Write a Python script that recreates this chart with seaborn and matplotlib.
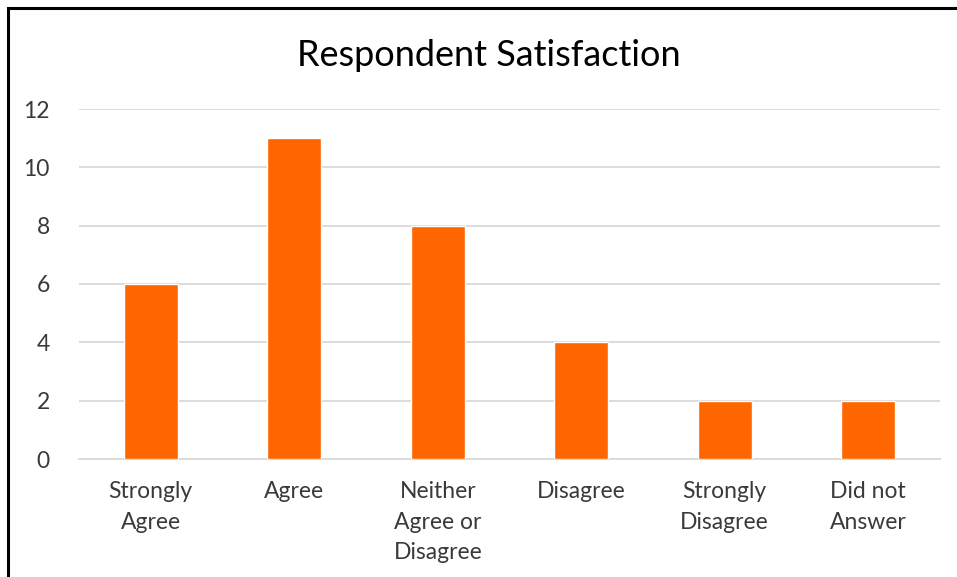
import matplotlib
matplotlib.use("Agg")
import matplotlib.pyplot as plt
import seaborn as sns
import pandas as pd
from matplotlib.patches import Rectangle

categories = ["Strongly\nAgree", "Agree", "Neither\nAgree or\nDisagree", "Disagree",
              "Strongly\nDisagree", "Did not\nAnswer"]
counts = [6, 11, 8, 4, 2, 2]
y_ticks = [0, 2, 4, 6, 8, 10, 12]

df = pd.DataFrame({"response": categories, "count": counts})

sns.set_theme(style="white")
plt.rcParams["font.family"] = ["Lato", "DejaVu Sans"]

W, H = 957, 577
fig = plt.figure(figsize=(W / 100, H / 100), dpi=100)
ax = fig.add_axes([79 / W, (H - 459) / H, (940 - 79) / W, (459 - 109) / H])

sns.barplot(data=df, x="response", y="count", color="#FF6600", saturation=1,
            width=0.375, ax=ax, zorder=3)

ax.set_ylim(0, 12)
ax.set_xlim(-0.5, len(categories) - 0.5)
ax.set_yticks(y_ticks)
ax.set_yticklabels([str(v) for v in y_ticks])
ax.grid(axis="y", color="#d9d9d9", linewidth=1.3, zorder=0)
ax.set_axisbelow(True)

for side in ["top", "right", "left"]:
    ax.spines[side].set_visible(False)
ax.spines["bottom"].set_color("#d9d9d9")
ax.spines["bottom"].set_linewidth(1.3)

ax.set_xlabel("")
ax.set_ylabel("")
ax.tick_params(axis="y", length=0, pad=21, labelsize=16.5, labelcolor="#3a3a3a")
ax.tick_params(axis="x", which="major", length=0, pad=16, labelsize=16.5,
               labelcolor="#3a3a3a")
for lbl in ax.get_xticklabels():
    lbl.set_linespacing(1.55)
    lbl.set_verticalalignment("top")
ax.set_xticks([i - 0.5 for i in range(len(categories) + 1)], minor=True)
ax.tick_params(axis="x", which="minor", length=6, width=1.3, color="#d9d9d9",
               direction="out")

fig.text(489 / W, (H - 55) / H, "Respondent Satisfaction", ha="center",
         va="center", fontsize=26, color="#000000")

# Chart frame
fig.patches.append(Rectangle((8 / W, -0.1), 1.2, (H - 8) / H + 0.1,
                             transform=fig.transFigure, fill=False,
                             edgecolor="black", linewidth=2.2))

fig.savefig("out.png", dpi=100)
